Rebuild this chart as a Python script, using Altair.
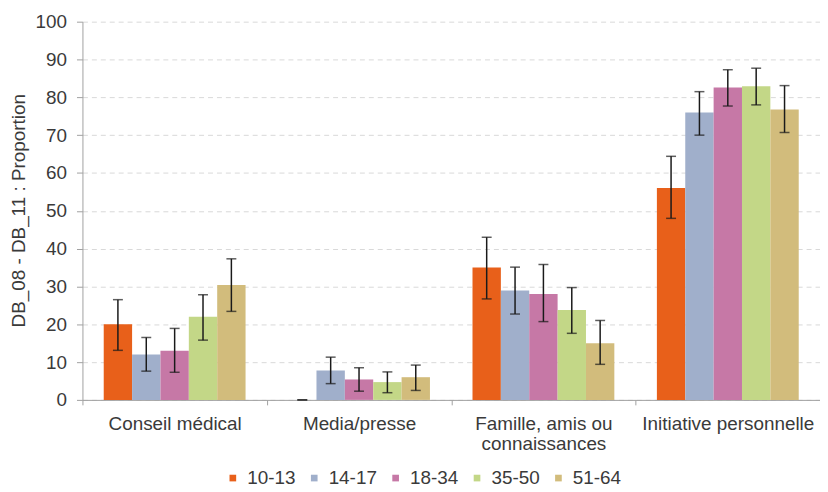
import altair as alt
import pandas as pd

categories = ["Conseil médical", "Media/presse", "Famille, amis ou|connaissances", "Initiative personnelle"]
groups = ["10-13", "14-17", "18-34", "35-50", "51-64"]
colors = ["#E8601A", "#A0AFCB", "#C678A6", "#C3D787", "#D2BC7C"]
y_ticks = [0, 10, 20, 30, 40, 50, 60, 70, 80, 90, 100]

# proportion values per age group (one per category)
val_10_13 = [20.0, 0.0, 35.0, 56.0]
val_14_17 = [12.0, 7.8, 28.9, 76.0]
val_18_34 = [13.0, 5.4, 28.0, 82.6]
val_35_50 = [22.0, 4.7, 23.8, 82.9]
val_51_64 = [30.4, 6.0, 15.0, 76.8]

# confidence interval lower bounds
lo_10_13 = [13.1, 0.0, 26.7, 48.0]
lo_14_17 = [7.6, 4.3, 22.7, 70.0]
lo_18_34 = [7.3, 2.3, 20.7, 77.7]
lo_35_50 = [15.8, 1.9, 17.6, 78.0]
lo_51_64 = [23.4, 2.5, 9.4, 70.7]

# confidence interval upper bounds
hi_10_13 = [26.5, 0.0, 43.0, 64.4]
hi_14_17 = [16.5, 11.3, 35.1, 81.5]
hi_18_34 = [18.9, 8.5, 35.8, 87.3]
hi_35_50 = [27.8, 7.4, 29.7, 87.7]
hi_51_64 = [37.3, 9.2, 21.0, 83.1]

vals = [val_10_13, val_14_17, val_18_34, val_35_50, val_51_64]
los = [lo_10_13, lo_14_17, lo_18_34, lo_35_50, lo_51_64]
his = [hi_10_13, hi_14_17, hi_18_34, hi_35_50, hi_51_64]

rows = []
for g, v, l, h in zip(groups, vals, los, his):
    for c, vv, ll, hh in zip(categories, v, l, h):
        rows.append({"cat": c, "grp": g, "val": vv, "lo": ll, "hi": hh})
df = pd.DataFrame(rows)

FONT = "Liberation Sans"
TXT = "#3a3a3a"
FS = 19

x_enc = alt.X(
    "cat:N",
    sort=categories,
    scale=alt.Scale(paddingInner=0, paddingOuter=0),
    axis=alt.Axis(
        title=None,
        labelAngle=0,
        labelExpr="split(datum.label, '|')",
        labelLineHeight=20,
        tickBand="extent",
        tickSize=5,
        labelPadding=10,
        domainColor="#a0a0a0",
        tickColor="#a0a0a0",
        labelFontSize=FS,
        labelColor=TXT,
        labelFont=FONT,
    ),
)
xoff = alt.XOffset("grp:N", sort=groups, scale=alt.Scale(paddingInner=0, paddingOuter=0.75))


def y_axis():
    return alt.Axis(
        title="DB_08 - DB_11 : Proportion",
        values=y_ticks,
        tickCount=11,
        grid=True,
        gridDash=[5, 4],
        gridColor="#d9d9d9",
        domainColor="#a0a0a0",
        tickColor="#a0a0a0",
        tickSize=6,
        labelPadding=10,
        labelFontSize=FS,
        labelColor=TXT,
        labelFont=FONT,
        titleFont=FONT,
        titleFontSize=FS,
        titleFontWeight="normal",
        titleColor=TXT,
        titleAngle=270,
        titleX=-64,
        titleY=190,
        titleAlign="center",
        titleBaseline="middle",
    )


yscale = alt.Scale(domain=[0, 100])

base = alt.Chart(df).encode(x=x_enc, xOffset=xoff)

bars = base.mark_bar().encode(
    y=alt.Y("val:Q", scale=yscale, axis=y_axis()),
    color=alt.Color(
        "grp:N",
        sort=groups,
        scale=alt.Scale(domain=groups, range=colors),
        legend=alt.Legend(
            title=None,
            orient="none",
            direction="horizontal",
            legendX=142,
            legendY=450,
            symbolType="square",
            symbolSize=45,
            symbolStrokeWidth=0,
            labelFontSize=FS,
            labelFont=FONT,
            labelColor=TXT,
            labelOffset=5,
            columnPadding=9,
        ),
    ),
)

rules = base.mark_rule(color="#1a1a1a", strokeWidth=1.5).encode(
    y=alt.Y("lo:Q", scale=yscale, axis=y_axis()), y2="hi:Q"
)
cap_hi = base.mark_tick(color="#1a1a1a", thickness=1.5, size=10).encode(
    y=alt.Y("hi:Q", scale=yscale, axis=y_axis())
)
cap_lo = base.mark_tick(color="#1a1a1a", thickness=1.5, size=10).encode(
    y=alt.Y("lo:Q", scale=yscale, axis=y_axis())
)

chart = (
    alt.layer(bars, rules, cap_hi, cap_lo)
    .properties(
        width=743,
        height=381,
        autosize=alt.AutoSizeParams(type="none"),
        padding={"left": 75, "top": 12, "right": 0, "bottom": 90},
    )
    .configure_view(stroke=None)
)

chart.save("out.html", embed_options={"renderer": "svg", "actions": False})
